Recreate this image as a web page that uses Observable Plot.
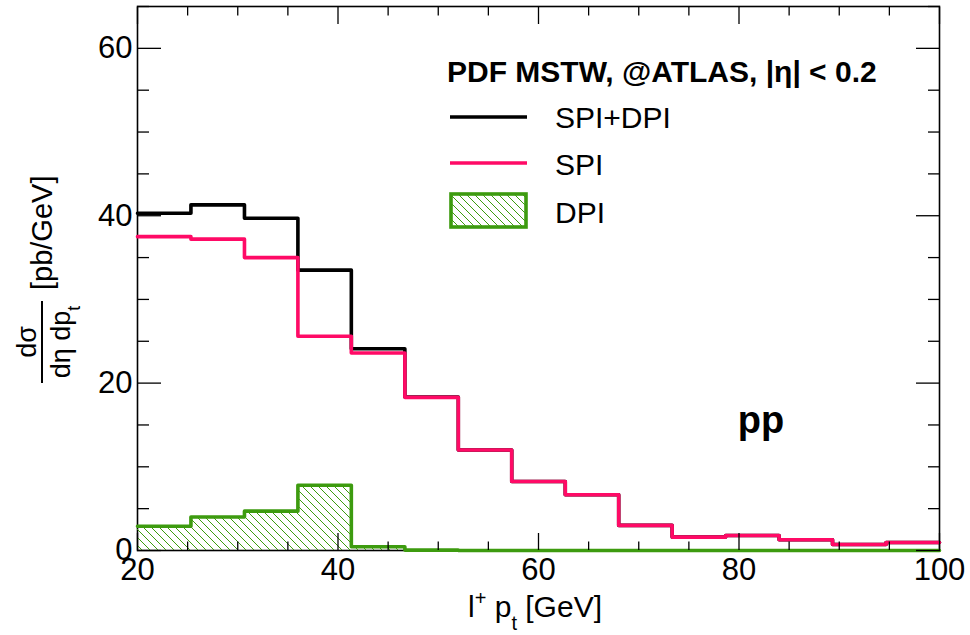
<!DOCTYPE html>
<html>
<head>
<meta charset="utf-8">
<script src="https://cdn.jsdelivr.net/npm/d3@7"></script>
<script src="https://cdn.jsdelivr.net/npm/@observablehq/plot@0.6"></script>
<style>
  html, body { margin: 0; padding: 0; background: white; }
  #chart { width: 970px; height: 635px; }
</style>
</head>
<body>
<div id="chart"></div>
<script>
// ---- data ----
const binEdges = [20, 25.33, 30.67, 36, 41.33, 46.67, 52, 57.33, 62.67, 68, 73.33, 78.67, 84, 89.33, 94.67, 100];
const spiDpi = [40.3, 41.3, 39.7, 33.5, 24.1, 18.35, 12.0, 8.25, 6.66, 3.0, 1.6, 1.8, 1.28, 0.72, 0.96];
const spi    = [37.5, 37.2, 35.0, 25.6, 23.6, 18.3, 12.0, 8.25, 6.66, 3.0, 1.6, 1.8, 1.28, 0.72, 0.96];
const dpi    = [2.9, 4.0, 4.7, 7.8, 0.45, 0.05, 0, 0, 0, 0, 0, 0, 0, 0, 0];
const xMajorTicks = [20, 40, 60, 80, 100];
const xMinorTicks = [25, 30, 35, 45, 50, 55, 65, 70, 75, 85, 90, 95];
const yMajorTicks = [0, 20, 40, 60];
const yMinorTicks = [5, 10, 15, 25, 30, 35, 45, 50, 55, 65];
const legendTitle = "PDF MSTW, @ATLAS, |η| < 0.2";
const seriesNames = ["SPI+DPI", "SPI", "DPI"];
const collisionLabel = "pp";

const RED = "#ff0a66";
const GREEN = "#3d9b0f";
const FONT = "'Liberation Sans', Arial, Helvetica, sans-serif";
const LW = 3.6;

function steps(vals) {
  const pts = vals.map((v, i) => ({x: binEdges[i], y: v}));
  pts.push({x: binEdges[binEdges.length - 1], y: vals[vals.length - 1]});
  return pts;
}
const totPts = steps(spiDpi), spiPts = steps(spi), dpiPts = steps(dpi);

const tickStyle = {stroke: "black", strokeWidth: 1.3, tickFormat: () => "", label: null};

const svg = Plot.plot({
  width: 970, height: 635,
  marginLeft: 137, marginRight: 31, marginTop: 6, marginBottom: 85,
  style: {fontFamily: FONT, fontSize: "30px", background: "white", color: "black"},
  x: {domain: [20, 100]},
  y: {domain: [0, 65]},
  marks: [
    Plot.frame({stroke: "black", strokeWidth: 1.6}),
    Plot.areaY(dpiPts, {x: "x", y: "y", curve: "step-after", fill: "url(#hatch)"}),
    Plot.line(totPts, {x: "x", y: "y", curve: "step-after", stroke: "black", strokeWidth: LW}),
    Plot.line(spiPts, {x: "x", y: "y", curve: "step-after", stroke: RED, strokeWidth: LW}),
    Plot.line(dpiPts, {x: "x", y: "y", curve: "step-after", stroke: GREEN, strokeWidth: LW}),
    // ticks (inward)
    Plot.axisX({anchor: "bottom", ticks: xMajorTicks, tickSize: -17, ...tickStyle}),
    Plot.axisX({anchor: "bottom", ticks: xMinorTicks, tickSize: -8.5, ...tickStyle}),
    Plot.axisX({anchor: "top", ticks: xMajorTicks, tickSize: -17, ...tickStyle}),
    Plot.axisX({anchor: "top", ticks: xMinorTicks, tickSize: -8.5, ...tickStyle}),
    Plot.axisY({anchor: "left", ticks: yMajorTicks, tickSize: -24, ...tickStyle}),
    Plot.axisY({anchor: "left", ticks: yMinorTicks, tickSize: -12, ...tickStyle}),
    Plot.axisY({anchor: "right", ticks: yMajorTicks, tickSize: -24, ...tickStyle}),
    Plot.axisY({anchor: "right", ticks: yMinorTicks, tickSize: -12, ...tickStyle}),
    // labels
    Plot.axisX({anchor: "bottom", ticks: xMajorTicks, tickSize: 0, tickPadding: 7, fontSize: 31, tickFormat: d => String(d), label: null, ariaLabel: "xlabels"}),
    Plot.axisY({anchor: "left", ticks: yMajorTicks, tickSize: 0, tickPadding: 5, fontSize: 31, tickFormat: d => String(d), label: null, ariaLabel: "ylabels"}),
    Plot.text([collisionLabel], {x: () => 82.2, y: () => 15.5, text: d => d, fontWeight: "bold", fontSize: 38, textAnchor: "middle"})
  ]
});

const s = d3.select(svg);
// make sure tick labels use the large font
s.selectAll("g[aria-label$='tick label'] text, g[aria-label$='tick label']").attr("font-size", 31);

// hatch pattern
const pat = s.insert("defs", ":first-child").append("pattern")
  .attr("id", "hatch").attr("patternUnits", "userSpaceOnUse")
  .attr("width", 8).attr("height", 8);
pat.append("path").attr("d", "M0,0L8,8M-2,6L2,10M6,-2L10,2")
  .attr("stroke", GREEN).attr("stroke-width", 1).attr("fill", "none");

// legend
const lg = s.append("g").attr("font-family", FONT).attr("fill", "black").attr("text-anchor", "start");
lg.append("text").attr("x", 447).attr("y", 82).attr("font-size", 30).attr("font-weight", "bold").text(legendTitle);
lg.append("line").attr("x1", 450).attr("x2", 527).attr("y1", 117).attr("y2", 117).attr("stroke", "black").attr("stroke-width", LW);
lg.append("line").attr("x1", 450).attr("x2", 527).attr("y1", 163).attr("y2", 163).attr("stroke", RED).attr("stroke-width", LW);
lg.append("rect").attr("x", 451).attr("y", 194).attr("width", 75).attr("height", 33)
  .attr("fill", "url(#hatch)").attr("stroke", GREEN).attr("stroke-width", LW);
[127.5, 175, 222.5].forEach((yy, i) => {
  lg.append("text").attr("x", 555).attr("y", yy).attr("font-size", 30).text(seriesNames[i]);
});

// x axis title
const xt = s.append("text").attr("x", 468).attr("y", 617).attr("font-family", FONT).attr("font-size", 30)
  .attr("fill", "black").attr("text-anchor", "start");
xt.append("tspan").text("l");
xt.append("tspan").attr("font-size", 20).attr("dy", -12).text("+");
xt.append("tspan").attr("dy", 12).text(" p");
xt.append("tspan").attr("font-size", 20).attr("dy", 13).text("t");
xt.append("tspan").attr("dy", -13).text(" [GeV]");

// y axis title (fraction)
const yt = s.append("g").attr("transform", "translate(0,550) rotate(-90)").attr("font-family", FONT).attr("fill", "black");
yt.append("text").attr("x", 208).attr("y", 36).attr("font-size", 27).attr("text-anchor", "middle").text("dσ");
yt.append("line").attr("x1", 167).attr("x2", 249).attr("y1", 42).attr("y2", 42).attr("stroke", "black").attr("stroke-width", 2);
const den = yt.append("text").attr("x", 208).attr("y", 70).attr("font-size", 27).attr("text-anchor", "middle");
den.append("tspan").text("dη dp");
den.append("tspan").attr("font-size", 18).attr("dy", 10).text("t");
yt.append("text").attr("x", 260).attr("y", 52).attr("font-size", 29).attr("text-anchor", "start").text("[pb/GeV]");

document.getElementById("chart").appendChild(svg);
</script>
</body>
</html>
